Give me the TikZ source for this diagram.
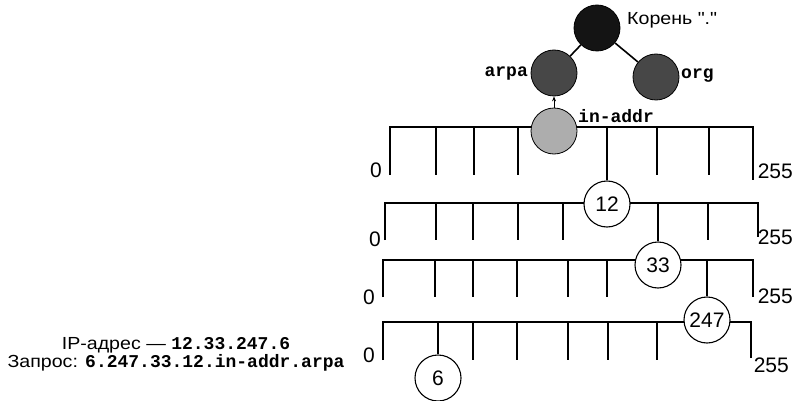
\documentclass[tikz,border=0pt]{standalone}
\usepackage{fontspec}
\setmainfont{Liberation Sans}
\newfontfamily\widesans[FakeStretch=1.12]{Liberation Sans}
\newfontfamily\codefont{Liberation Mono}
\usetikzlibrary{arrows.meta}
\begin{document}
\begin{tikzpicture}[x=1pt,y=-1pt,
  bar/.style={line width=1.2pt},
  num/.style={circle,draw,line width=1.1pt,fill=white,minimum size=46pt,inner sep=0pt,font=\fontsize{21}{21}\selectfont},
  tree/.style={circle,draw,line width=0.8pt,minimum size=46pt,inner sep=0pt},
  endlbl/.style={font=\fontsize{21}{21}\selectfont,inner sep=0pt},
  code/.style={font=\fontsize{18}{18}\codefont\bfseries,inner sep=0pt},
  txt/.style={font=\fontsize{17.5}{19}\widesans,inner sep=0pt}
]
\useasboundingbox (0,0) rectangle (794,401);

% ---- bars ----
% level 1
\draw[bar] (390,175) |- (753,127) -- (753,180);
\foreach \t in {436,474,518,657,709} \draw[bar] (\t,127) -- (\t,175);
\coordinate (l1) at (607,127);
% level 2
\draw[bar] (385,240) |- (758,203) -- (758,237);
\foreach \t in {436,473,518,563,708} \draw[bar] (\t,203) -- (\t,240);
\coordinate (l2) at (658,203);
% level 3
\draw[bar] (383,297) |- (753,260) -- (753,297);
\foreach \t in {435,473,517,568,607} \draw[bar] (\t,260) -- (\t,297);
\coordinate (l3) at (707,260);
% level 4
\draw[bar] (383,360) |- (751,322) -- (751,358);
\foreach \t in {473,517,568,608,657} \draw[bar] (\t,322) -- (\t,360);
\coordinate (l4) at (438,322);

% end labels
\node[endlbl] (z1) at (376,170) {0};
\node[endlbl,anchor=east] (m1) at (793,171) {255};
\node[endlbl] (z2) at (375,239) {0};
\node[endlbl,anchor=east] (m2) at (793,237) {255};
\node[endlbl] (z3) at (369,297) {0};
\node[endlbl,anchor=east] (m3) at (793,296) {255};
\node[endlbl] (z4) at (369,355) {0};
\node[endlbl,anchor=east] (m4) at (789,365) {255};

% ---- tree ----
\node[tree,fill=black!92] (root) at (597,28) {};
\node[tree,fill=black!72] (arpa) at (554,73) {};
\node[tree,fill=black!72] (org) at (656,77) {};
\node[tree,fill=black!32] (inaddr) at (554,131) {};
\draw[line width=1.6pt] (root) -- (arpa);
\draw[line width=1.6pt] (root) -- (org);
\draw[line width=1pt,-{Stealth[length=5pt,width=4pt]}] (inaddr.north) -- (arpa.south);

\node[txt,anchor=west] (rootlbl) at (627,20) {Корень "."};
\node[code,anchor=east] (arpalbl) at (528,74) {arpa};
\node[code,anchor=west] (orglbl) at (681,76) {org};
\node[code,anchor=west] (inaddrlbl) at (578,116) {in-addr};

% ---- number circles ----
\node[num] (n12) at (607,204) {12};
\node[num] (n33) at (658,265) {33};
\node[num] (n247) at (707,320) {247};
\node[num] (n6) at (438,378) {6};
\draw[bar] (l1) -- (n12.north);
\draw[bar] (l2) -- (n33.north);
\draw[bar] (l3) -- (n247.north);
\draw[bar] (l4) -- (n6.north);

% ---- left text ----
\node[txt] (ip) at (176,345) {IP-адрес — {\codefont\bfseries\fontsize{18}{18}\selectfont 12.33.247.6}};
\node[txt] (query) at (176,363) {Запрос: {\codefont\bfseries\fontsize{18}{18}\selectfont 6.247.33.12.in-addr.arpa}};
\end{tikzpicture}
\end{document}
